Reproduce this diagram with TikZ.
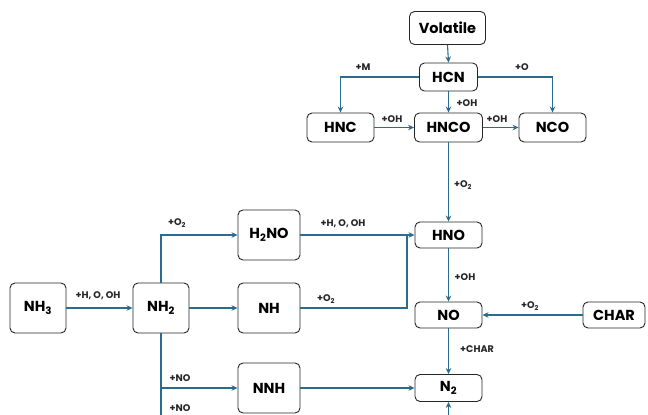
\documentclass[tikz,border=0pt]{standalone}
\usepackage{fontspec}
\setmainfont{Poppins}
\usetikzlibrary{arrows.meta}
\definecolor{arrc}{HTML}{2B6C8C}
\tikzset{
  box/.style={draw=black!85, line width=0.9pt, rounded corners=5pt, align=center, inner sep=0pt, font=\fontsize{14.5}{15}\selectfont\bfseries},
  arr/.style={draw=arrc, line width=1.1pt, -{Stealth[length=6pt,width=5.5pt]}},
  ln/.style={draw=arrc, line width=1.1pt},
  lbl/.style={font=\fontsize{9.6}{10}\selectfont\bfseries, inner sep=0pt, text=black!85}
}
\begin{document}
\begin{tikzpicture}[x=1pt,y=-1pt]
\useasboundingbox (0,0) rectangle (648,415);
\clip (0,0) rectangle (648,415);
% nodes
\node[box, minimum width=76pt, minimum height=33pt] (vol) at (447.5,28) {Volatile};
\node[box, minimum width=58pt, minimum height=28pt] (hcn) at (448.5,77) {HCN};
\node[box, minimum width=67pt, minimum height=29pt] (hnc) at (340.5,127.5) {HNC};
\node[box, minimum width=68pt, minimum height=29pt] (hnco) at (448.5,127.5) {HNCO};
\node[box, minimum width=67pt, minimum height=29pt] (nco) at (552.5,127.5) {NCO};
\node[box, minimum width=67pt, minimum height=26pt] (hno) at (448.5,235) {HNO};
\node[box, minimum width=67pt, minimum height=26pt] (no) at (448.5,315) {NO};
\node[box, minimum width=67pt, minimum height=27pt] (n2) at (448.5,388) {N\textsubscript{2}};
\node[box, minimum width=62pt, minimum height=26pt] (char) at (614,315) {CHAR};
\node[box, minimum width=56pt, minimum height=50pt] (nh3) at (38,308) {NH\textsubscript{3}};
\node[box, minimum width=56pt, minimum height=50pt] (nh2) at (161,308) {NH\textsubscript{2}};
\node[box, minimum width=62pt, minimum height=50pt] (h2no) at (269,235) {H\textsubscript{2}NO};
\node[box, minimum width=62pt, minimum height=50pt] (nh) at (269,308) {NH};
\node[box, minimum width=62pt, minimum height=50pt] (nnh) at (269,388) {NNH};
\coordinate (j) at (407,308);
\coordinate (bot1) at (161,430);
\coordinate (bot2) at (448.5,430);
% connectors
\draw[arr] (vol.south) -- (hcn.north);
\draw[arr] (hcn.west) -| (hnc.north);
\draw[arr] (hcn.east) -| (nco.north);
\draw[arr] (hcn.south) -- (hnco.north);
\draw[arr] (hnc.east) -- (hnco.west);
\draw[arr] (hnco.east) -- (nco.west);
\draw[arr] (hnco.south) -- (hno.north);
\draw[arr] (h2no.east) -- (hno.west);
\draw[ln] (nh.east) -- (j) -- (j |- hno.west);
\draw[arr] (hno.south) -- (no.north);
\draw[arr] (char.west) -- (no.east);
\draw[arr] (no.south) -- (n2.north);
\draw[arr] (nnh.east) -- (n2.west);
\draw[arr] (bot2) -- (n2.south);
\draw[arr] (nh3.east) -- (nh2.west);
\draw[arr] (nh2.north) |- (h2no.west);
\draw[arr] (nh2.east) -- (nh.west);
\draw[ln] (nh2.south) -- (bot1);
\draw[arr] (nh2.south) |- (nnh.west);
% labels
\node[lbl] (l1) at (363,67) {+M};
\node[lbl] (l2) at (522,67) {+O};
\node[lbl] (l3) at (467,103) {+OH};
\node[lbl] (l4) at (392,119) {+OH};
\node[lbl] (l5) at (497,119) {+OH};
\node[lbl] (l6) at (463,185) {+O\textsubscript{2}};
\node[lbl] (l7) at (177,223) {+O\textsubscript{2}};
\node[lbl] (l8) at (343,224) {+H, O, OH};
\node[lbl] (l9) at (326,299) {+O\textsubscript{2}};
\node[lbl] (l10) at (465,277) {+OH};
\node[lbl] (l11) at (530,306) {+O\textsubscript{2}};
\node[lbl] (l12) at (477,349) {+CHAR};
\node[lbl] (l13) at (98,296) {+H, O, OH};
\node[lbl] (l14) at (180,378) {+NO};
\node[lbl] (l15) at (180,408) {+NO};
\end{tikzpicture}
\end{document}
